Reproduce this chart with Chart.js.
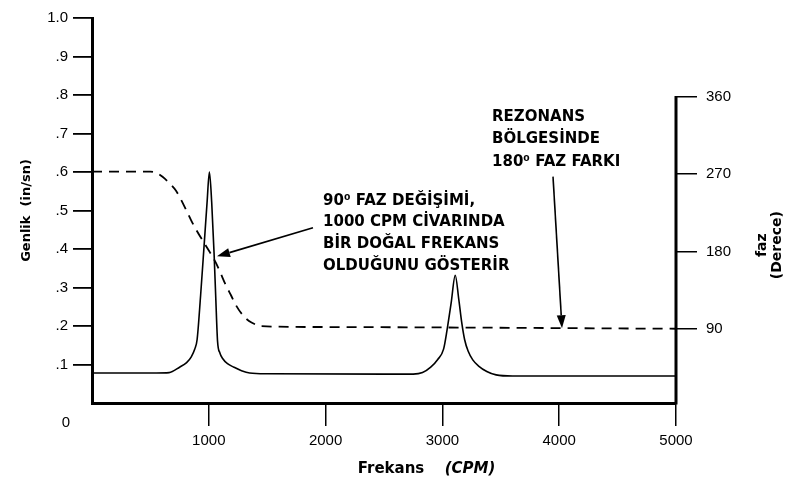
<!DOCTYPE html>
<html>
<head>
<meta charset="utf-8">
<script src="https://cdn.jsdelivr.net/npm/chart.js@4"></script>
<style>
html,body{margin:0;padding:0;background:#fff;}
#wrap{width:790px;height:494px;}
</style>
</head>
<body>
<div id="wrap"><canvas id="c" width="790" height="494"></canvas></div>
<script>
// ---- Data ----
const ampFreq   = [0, 550, 660, 750, 810, 850, 880, 900, 930, 960, 985, 1005, 1025, 1045, 1060, 1075, 1095, 1120, 1160, 1215, 1280, 1350, 1500, 2500, 2750, 2830, 2900, 2960, 3010, 3040, 3075, 3110, 3140, 3165, 3190, 3220, 3260, 3310, 3380, 3460, 3600, 5000];
const ampValues = [0.078, 0.078, 0.079, 0.093, 0.105, 0.12, 0.14, 0.165, 0.28, 0.41, 0.52, 0.60, 0.52, 0.39, 0.27, 0.16, 0.13, 0.115, 0.102, 0.093, 0.084, 0.078, 0.076, 0.075, 0.075, 0.079, 0.093, 0.113, 0.14, 0.19, 0.26, 0.332, 0.27, 0.21, 0.165, 0.135, 0.112, 0.096, 0.082, 0.073, 0.070, 0.070];

const phaseFreq   = [0, 500, 560, 604, 660, 718, 760, 804, 850, 889, 960, 1010, 1060, 1100, 1145, 1190, 1230, 1290, 1344, 1400, 1444, 2000, 5000];
const phaseValues = [273, 273, 271, 267, 260, 251, 241, 229, 216, 206, 190, 179, 167, 155, 141, 129, 118, 106, 99, 95, 93, 92, 90];

const xTicks  = [1000, 2000, 3000, 4000, 5000];
const yTicks  = [0.1, 0.2, 0.3, 0.4, 0.5, 0.6, 0.7, 0.8, 0.9, 1.0];
const y1Ticks = [90, 180, 270, 360];

const xTitle = ['Frekans', '(CPM)'];
const yTitle = 'Genlik  (in/sn)';
const y1Title = ['faz', '(Derece)'];

const noteA = ['90\u2070 FAZ DEĞİŞİMİ,', '1000 CPM CİVARINDA', 'BİR DOĞAL FREKANS', 'OLDUĞUNU GÖSTERİR'];
const noteB = ['REZONANS', 'BÖLGESİNDE', '180\u2070 FAZ FARKI'];

// annotation anchors in data units (x: CPM, y: amplitude)
const noteAAt = {x: 1978, y: 0.5256};
const noteBAt = {x: 3425, y: 0.743};
const arrowA = {from: {x: 1892, y: 0.455}, to: {x: 1070, y: 0.381}};
const arrowB = {from: {x: 3947, y: 0.588}, to: {x: 4024, y: 0.194}};

const ampData = ampFreq.map((f, i) => ({x: f, y: ampValues[i]}));
const phaseData = phaseFreq.map((f, i) => ({x: f, y: phaseValues[i]}));

const NOTE_FONT = 'bold 15px "DejaVu Sans", sans-serif';
const TICK_FONT = {family: '"Liberation Sans", Arial, sans-serif', size: 15};

function drawArrow(ctx, x1, y1, x2, y2) {
  const ang = Math.atan2(y2 - y1, x2 - x1);
  const hl = 13, hw = 4.5;
  const bx = x2 - hl * Math.cos(ang), by = y2 - hl * Math.sin(ang);
  ctx.beginPath();
  ctx.moveTo(x1, y1);
  ctx.lineTo(bx, by);
  ctx.stroke();
  ctx.beginPath();
  ctx.moveTo(x2, y2);
  ctx.lineTo(bx + hw * Math.sin(ang), by - hw * Math.cos(ang));
  ctx.lineTo(bx - hw * Math.sin(ang), by + hw * Math.cos(ang));
  ctx.closePath();
  ctx.fill();
}

const overlay = {
  id: 'overlay',
  afterDraw(chart) {
    const {ctx, chartArea: a, scales: {x, y, y1}} = chart;
    ctx.save();
    ctx.fillStyle = '#000';
    ctx.strokeStyle = '#000';

    // right axis line (from 360 down to the base)
    ctx.lineWidth = 3;
    ctx.beginPath();
    ctx.moveTo(a.right, y1.getPixelForValue(y1Ticks[y1Ticks.length - 1]) - 1);
    ctx.lineTo(a.right, a.bottom + 1.5);
    ctx.stroke();

    // origin label "0"
    ctx.font = '15px "Liberation Sans", Arial, sans-serif';
    ctx.textAlign = 'right';
    ctx.textBaseline = 'middle';
    ctx.fillText('0', a.left - 22, a.bottom + 20);

    // x title
    ctx.textAlign = 'left';
    ctx.font = 'bold 15px "DejaVu Sans", sans-serif';
    const tx = x.getPixelForValue(2275);
    const ty = a.bottom + 66;
    ctx.fillText(xTitle[0], tx, ty);
    ctx.font = 'italic bold 15px "DejaVu Sans", sans-serif';
    ctx.fillText(xTitle[1], tx + 87, ty);

    // right axis title, rotated
    ctx.save();
    ctx.translate(a.right + 86, y.getPixelForValue(0.41));
    ctx.rotate(-Math.PI / 2);
    ctx.textAlign = 'center';
    ctx.font = 'bold 14px "DejaVu Sans", sans-serif';
    ctx.fillText(y1Title[0], 0, 0);
    ctx.fillText(y1Title[1], 0, 15);
    ctx.restore();

    // annotations
    ctx.font = NOTE_FONT;
    ctx.textAlign = 'left';
    ctx.textBaseline = 'middle';
    const lh = 21.7;
    let nx = x.getPixelForValue(noteAAt.x), ny = y.getPixelForValue(noteAAt.y);
    noteA.forEach((t, i) => ctx.fillText(t, nx, ny + i * lh));
    nx = x.getPixelForValue(noteBAt.x); ny = y.getPixelForValue(noteBAt.y);
    noteB.forEach((t, i) => ctx.fillText(t, nx, ny + i * 22.5));

    // arrows
    ctx.lineWidth = 1.6;
    [arrowA, arrowB].forEach(ar => {
      drawArrow(ctx,
        x.getPixelForValue(ar.from.x), y.getPixelForValue(ar.from.y),
        x.getPixelForValue(ar.to.x), y.getPixelForValue(ar.to.y));
    });
    ctx.restore();
  }
};

new Chart(document.getElementById('c'), {
  type: 'line',
  data: {
    datasets: [
      {
        label: 'Genlik',
        data: ampData,
        yAxisID: 'y',
        borderColor: '#000',
        borderWidth: 1.6,
        pointRadius: 0,
        fill: false,
        cubicInterpolationMode: 'monotone'
      },
      {
        label: 'Faz',
        data: phaseData,
        yAxisID: 'y1',
        borderColor: '#000',
        borderWidth: 1.8,
        borderDash: [10, 7],
        pointRadius: 0,
        fill: false,
        cubicInterpolationMode: 'monotone'
      }
    ]
  },
  options: {
    responsive: false,
    animation: false,
    devicePixelRatio: 1,
    layout: {padding: {top: 12, left: 0, right: 0, bottom: 0}},
    plugins: {legend: {display: false}, tooltip: {enabled: false}},
    scales: {
      x: {
        type: 'linear', position: 'bottom', min: 0, max: 5000,
        afterBuildTicks: s => { s.ticks = xTicks.map(v => ({value: v})); },
        afterFit: s => { s.height = 91; },
        grid: {drawOnChartArea: false, drawTicks: true, tickLength: 23, color: '#000', lineWidth: 1.5},
        border: {display: true, color: '#000', width: 3},
        ticks: {color: '#000', font: TICK_FONT, padding: 6, maxRotation: 0, autoSkip: false, callback: v => String(v)}
      },
      y: {
        type: 'linear', position: 'left', min: 0, max: 1,
        afterBuildTicks: s => { s.ticks = yTicks.map(v => ({value: v})); },
        afterFit: s => { s.width = 92; },
        grid: {drawOnChartArea: false, drawTicks: true, tickLength: 19, color: '#000', lineWidth: 1.8},
        border: {display: true, color: '#000', width: 3},
        ticks: {color: '#000', font: TICK_FONT, padding: 5, autoSkip: false,
                callback: v => v >= 0.999 ? '1.0' : '.' + Math.round(v * 10)},
        title: {display: true, text: yTitle, color: '#000',
                font: {family: '"DejaVu Sans", sans-serif', size: 13, weight: 'bold'},
                padding: {top: 19, bottom: 0}}
      },
      y1: {
        type: 'linear', position: 'right', min: 3.5, max: 452,
        afterBuildTicks: s => { s.ticks = y1Ticks.map(v => ({value: v})); },
        afterFit: s => { s.width = 114; },
        grid: {drawOnChartArea: false, drawTicks: true, tickLength: 21, color: '#000', lineWidth: 1.5},
        border: {display: false},
        ticks: {color: '#000', font: TICK_FONT, padding: 9, autoSkip: false, callback: v => String(v)}
      }
    }
  },
  plugins: [overlay]
});
</script>
</body>
</html>
